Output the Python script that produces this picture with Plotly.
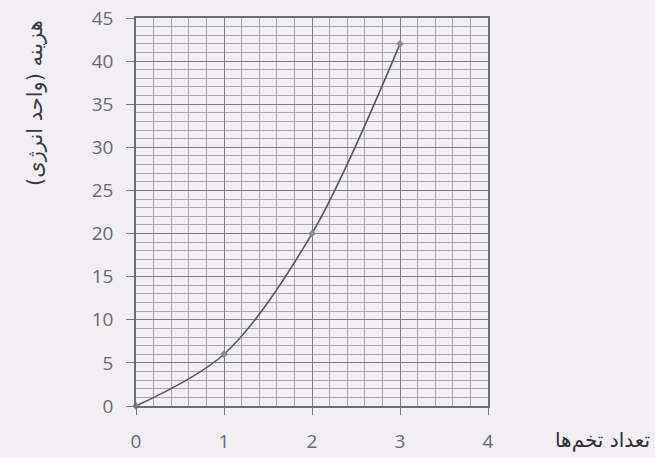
import plotly.graph_objects as go

eggs = [0, 1, 2, 3]
cost = [0, 6, 20, 42]
x_ticks = [0, 1, 2, 3, 4]
y_ticks = [0, 5, 10, 15, 20, 25, 30, 35, 40, 45]
y_title = "هزینه (واحد انرژی)"
x_title = "تعداد تخم‌ها"

fig = go.Figure()
fig.add_trace(go.Scatter(
    x=eggs, y=cost, mode="lines+markers",
    line=dict(color="#58585c", width=1.6, shape="spline", smoothing=0.9),
    marker=dict(symbol="diamond", size=6, color="#8a8a90"),
    showlegend=False, cliponaxis=False,
))

bg = "#f2eff4"
fig.update_layout(
    width=655, height=458,
    margin=dict(l=136, r=167, t=18, b=52, autoexpand=False),
    paper_bgcolor=bg, plot_bgcolor=bg,
    font=dict(family="Open Sans", size=19, color="#6a6a6e"),
)
fig.update_xaxes(
    range=[0, 4], tickvals=x_ticks, ticks="outside", ticklen=7, tickcolor="#777",
    ticklabelstandoff=10, automargin=False, ticklabeloverflow="allow",
    showgrid=True, gridcolor="#7d7d82", gridwidth=1.3,
    minor=dict(dtick=0.2, showgrid=True, gridcolor="#a9a7ad", gridwidth=1),
    showline=True, linecolor="#6e6e72", linewidth=1.5, mirror=True, zeroline=False,
)
fig.update_yaxes(
    range=[0, 45], tickvals=y_ticks, ticks="outside", ticklen=8, tickcolor="#777",
    ticklabelstandoff=9, automargin=False, ticklabeloverflow="allow",
    showgrid=True, gridcolor="#7d7d82", gridwidth=1.3,
    minor=dict(dtick=1, showgrid=True, gridcolor="#a9a7ad", gridwidth=1),
    showline=True, linecolor="#6e6e72", linewidth=1.5, mirror=True, zeroline=False,
)
fig.add_annotation(
    text=y_title, textangle=-90, xref="paper", yref="paper",
    x=-0.287, y=0.781, xanchor="center", yanchor="middle", showarrow=False,
    font=dict(family="DejaVu Sans", size=21, color="#3a3a3e"),
)
fig.add_annotation(
    text=x_title, xref="paper", yref="paper",
    x=1.324, y=-0.0876, showarrow=False, xanchor="center", yanchor="middle",
    font=dict(family="DejaVu Sans", size=20, color="#2e2e32"),
)
fig.write_html(
    "out.html",
    config={"displayModeBar": False},
    post_script="document.body.style.margin='0';document.body.style.background='%s';" % bg,
)
